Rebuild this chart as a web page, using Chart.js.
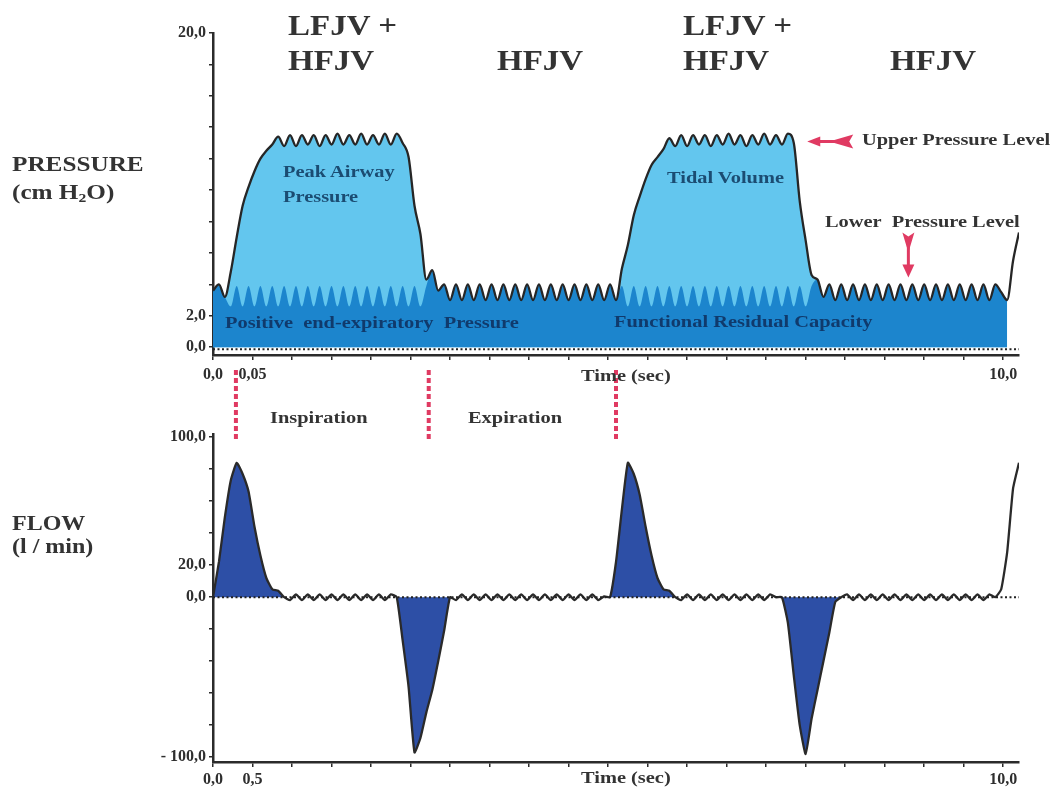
<!DOCTYPE html>
<html>
<head>
<meta charset="utf-8">
<script src="https://cdn.jsdelivr.net/npm/chart.js@4.4.1/dist/chart.umd.min.js"></script>
<style>
  html, body { margin: 0; padding: 0; background: #fff; }
  #wrap { position: relative; width: 1057px; height: 793px; overflow: hidden; }
  canvas { position: absolute; left: 0; }
  #pressureChart { top: 0; }
  #flowChart { top: 360px; }
  .note {
    position: absolute; font-family: 'Liberation Serif', 'DejaVu Serif', serif; font-weight: bold;
    line-height: 1; white-space: nowrap; transform-origin: 0 0; pointer-events: none;
  }
  .note sub { font-size: 0.62em; vertical-align: -0.25em; line-height: 0; }
</style>
</head>
<body>
<div id="wrap">
  <canvas id="pressureChart" width="1057" height="390"></canvas>
  <canvas id="flowChart" width="1057" height="433"></canvas>
</div>
<script>
// Zeitachse (s), Schritt 0,075 s
const time = [
  0, 0.075, 0.15, 0.225, 0.3, 0.375, 0.45, 0.525,
  0.6, 0.675, 0.75, 0.825, 0.9, 0.975, 1.05, 1.125,
  1.2, 1.275, 1.35, 1.425, 1.5, 1.575, 1.65, 1.725,
  1.8, 1.875, 1.95, 2.025, 2.1, 2.175, 2.25, 2.325,
  2.4, 2.475, 2.55, 2.625, 2.7, 2.775, 2.85, 2.925,
  3.0, 3.075, 3.15, 3.225, 3.3, 3.375, 3.45, 3.525,
  3.6, 3.675, 3.75, 3.825, 3.9, 3.975, 4.05, 4.125,
  4.2, 4.275, 4.35, 4.425, 4.5, 4.575, 4.65, 4.725,
  4.8, 4.875, 4.95, 5.025, 5.1, 5.175, 5.25, 5.325,
  5.4, 5.475, 5.55, 5.625, 5.7, 5.775, 5.85, 5.925,
  6.0, 6.075, 6.15, 6.225, 6.3, 6.375, 6.45, 6.525,
  6.6, 6.675, 6.75, 6.825, 6.9, 6.975, 7.05, 7.125,
  7.2, 7.275, 7.35, 7.425, 7.5, 7.575, 7.65, 7.725,
  7.8, 7.875, 7.95, 8.025, 8.1, 8.175, 8.25, 8.325,
  8.4, 8.475, 8.55, 8.625, 8.7, 8.775, 8.85, 8.925,
  9.0, 9.075, 9.15, 9.225, 9.3, 9.375, 9.45, 9.525,
  9.6, 9.675, 9.75, 9.825, 9.9, 9.975, 10.05, 10.125,
  10.2
];

// Atemwegsdruck (cm H2O)
const pressure = [
  3.6, 4.0, 3.2, 4.8, 7.0, 9.0, 10.2, 11.2,
  12.0, 12.5, 12.9, 13.4, 12.8, 13.5, 12.8, 13.5,
  12.9, 13.5, 12.8, 13.5, 12.9, 13.6, 12.9, 13.5,
  12.9, 13.6, 12.9, 13.5, 12.9, 13.6, 12.9, 13.6,
  13.0, 12.1, 9.0, 7.2, 4.3, 4.9, 3.6, 4.0,
  3.0, 4.0, 3.0, 4.0, 3.0, 4.0, 3.0, 4.0,
  3.0, 4.0, 3.0, 4.0, 3.0, 4.0, 3.0, 4.0,
  3.0, 4.0, 3.0, 4.0, 3.0, 4.0, 3.0, 4.0,
  3.0, 4.0, 3.0, 4.0, 3.0, 5.0, 6.5, 8.4,
  9.6, 10.7, 11.6, 12.1, 12.6, 13.3, 12.8, 13.5,
  12.8, 13.5, 12.9, 13.5, 12.8, 13.5, 12.9, 13.6,
  12.9, 13.5, 12.8, 13.5, 12.9, 13.6, 12.9, 13.5,
  12.9, 13.6, 13.0, 9.3, 6.8, 4.6, 4.3, 3.2,
  4.0, 3.0, 4.0, 3.0, 4.0, 3.0, 4.0, 3.0,
  4.0, 3.0, 4.0, 3.0, 4.0, 3.0, 4.0, 3.0,
  4.0, 3.0, 4.0, 3.0, 4.0, 3.0, 4.0, 3.0,
  4.0, 3.0, 4.0, 3.0, 4.0, 3.5, 3.0, 5.5,
  7.3
];

// PEEP / FRC-Band (dunkelblau)
const peep = [
  3.6, 4.0, 3.2, 2.6, 3.9, 2.6, 3.9, 2.6,
  3.9, 2.6, 3.9, 2.6, 3.9, 2.6, 3.9, 2.6,
  3.9, 2.6, 3.9, 2.6, 3.9, 2.6, 3.9, 2.6,
  3.9, 2.6, 3.9, 2.6, 3.9, 2.6, 3.9, 2.6,
  3.9, 2.6, 3.9, 2.6, 3.9, 4.9, 3.6, 4.0,
  3.0, 4.0, 3.0, 4.0, 3.0, 4.0, 3.0, 4.0,
  3.0, 4.0, 3.0, 4.0, 3.0, 4.0, 3.0, 4.0,
  3.0, 4.0, 3.0, 4.0, 3.0, 4.0, 3.0, 4.0,
  3.0, 4.0, 3.0, 4.0, 3.0, 3.9, 2.6, 3.9,
  2.6, 3.9, 2.6, 3.9, 2.6, 3.9, 2.6, 3.9,
  2.6, 3.9, 2.6, 3.9, 2.6, 3.9, 2.6, 3.9,
  2.6, 3.9, 2.6, 3.9, 2.6, 3.9, 2.6, 3.9,
  2.6, 3.9, 2.6, 3.9, 2.6, 3.9, 4.3, 3.2,
  4.0, 3.0, 4.0, 3.0, 4.0, 3.0, 4.0, 3.0,
  4.0, 3.0, 4.0, 3.0, 4.0, 3.0, 4.0, 3.0,
  4.0, 3.0, 4.0, 3.0, 4.0, 3.0, 4.0, 3.0,
  4.0, 3.0, 4.0, 3.0, 4.0, 3.5, 3.0
];

// Flow (l/min)
const flow = [
  0, 22, 50, 73, 84, 77, 66, 44,
  26, 12, 5, 4, 0, -1.8, 1.8, -1.8,
  1.8, -1.8, 1.8, -1.8, 1.8, -1.8, 1.8, -1.8,
  1.8, -1.8, 1.8, -1.8, 1.8, -1.8, 1.8, 0,
  -27, -56, -97, -88, -72, -58, -40, -21,
  0, -1.8, 1.8, -1.8, 1.8, -1.8, 1.8, -1.8,
  1.8, -1.8, 1.8, -1.8, 1.8, -1.8, 1.8, -1.8,
  1.8, -1.8, 1.8, -1.8, 1.8, -1.8, 1.8, -1.8,
  1.8, -1.8, 0.5, 0, 22, 55, 84, 77,
  64, 44, 26, 12, 5, 4, 0, -1.8,
  1.8, -1.8, 1.8, -1.8, 1.8, -1.8, 1.8, -1.8,
  1.8, -1.8, 1.8, -1.8, 1.8, -1.8, 1.8, 0,
  0, -16, -49, -80, -98, -76, -58, -40,
  -22, -3, 0, 1.8, -1.8, 1.8, -1.8, 1.8,
  -1.8, 1.8, -1.8, 1.8, -1.8, 1.8, -1.8, 1.8,
  -1.8, 1.8, -1.8, 1.8, -1.8, 1.8, -1.8, 1.8,
  -1.8, 1.8, -1.8, 1.8, 0, 5, 28, 68,
  84
];
// Index-Bereiche der gefuellten Flow-Spitzen
const flowPeaks = [[0, 12], [31, 40], [67, 78], [96, 106]];

const timeTicks = [0, 0.5, 1, 1.5, 2, 2.5, 3, 3.5, 4, 4.5, 5, 5.5, 6, 6.5, 7, 7.5, 8, 8.5, 9, 9.5, 10];
const timeTextTop = ['0,0', '0,05', '', '', '', '', '', '', '', '', '', '', '', '', '', '', '', '', '', '', '10,0'];
const timeTextBottom = ['0,0', '0,5', '', '', '', '', '', '', '', '', '', '', '', '', '', '', '', '', '', '', '10,0'];
const pressureTicks = [0, 2, 4, 6, 8, 10, 12, 14, 16, 18, 20];
const pressureText = ['0,0', '2,0', '', '', '', '', '', '', '', '', '20,0'];
const flowTicks = [-100, -80, -60, -40, -20, 0, 20, 40, 60, 80, 100];
const flowText = ['- 100,0', '', '', '', '', '0,0', '20,0', '', '', '', '100,0'];

// Phasen-Markierungen (s)
const phaseMarks = [0.29, 2.73, 5.1];

const flowFill = flow.map((v, i) => flowPeaks.some(([a, b]) => i >= a && i <= b) ? v : null);

const RED = '#e03a62';
const tickFont = { family: 'Liberation Serif', weight: 'bold', size: 16 };

function xAxis(texts, height, pad) {
    return {
        type: 'linear', min: 0, max: 10.2,
        afterBuildTicks: ax => { ax.ticks = timeTicks.map(v => ({ value: v })); },
        afterFit: ax => { ax.height = height; },
        border: { display: true, color: '#2b2b2b', width: 2.5 },
        grid: { drawOnChartArea: false, drawTicks: true, tickLength: 5, color: '#2b2b2b', lineWidth: 1.5 },
        ticks: { color: '#2e2e2e', font: tickFont, padding: pad, maxRotation: 0, autoSkip: false,
                 callback: (v, i) => texts[i] }
    };
}

function yAxis(min, max, ticks, texts) {
    return {
        min: min, max: max,
        afterBuildTicks: ax => { ax.ticks = ticks.map(v => ({ value: v })); },
        afterFit: ax => { ax.width = 213; },
        border: { display: true, color: '#2b2b2b', width: 2.5 },
        grid: { drawOnChartArea: false, drawTicks: true, tickLength: 4, color: '#2b2b2b', lineWidth: 1.5 },
        ticks: { color: '#2e2e2e', font: tickFont, padding: 3, autoSkip: false,
                 callback: (v, i) => texts[i] }
    };
}

// Nulllinie gepunktet
function zeroLine(chart, dy) {
    const { ctx, chartArea, scales } = chart;
    const y = scales.y.getPixelForValue(0) + dy;
    ctx.save();
    ctx.strokeStyle = '#222';
    ctx.lineWidth = 2;
    ctx.setLineDash([2, 2.5]);
    ctx.beginPath();
    ctx.moveTo(chartArea.left, y);
    ctx.lineTo(chartArea.right, y);
    ctx.stroke();
    ctx.restore();
}

const pressureExtras = {
    id: 'pressureExtras',
    afterDatasetsDraw(chart) {
        const { ctx, scales } = chart;
        zeroLine(chart, 2);
        ctx.save();
        ctx.fillStyle = RED;
        ctx.strokeStyle = RED;
        // Pfeil "Upper Pressure Level"
        let x = scales.x.getPixelForValue(7.52), y = scales.y.getPixelForValue(13.1);
        ctx.lineWidth = 3;
        ctx.beginPath(); ctx.moveTo(x + 8, y); ctx.lineTo(x + 40, y); ctx.stroke();
        ctx.beginPath(); ctx.moveTo(x, y); ctx.lineTo(x + 13, y - 5); ctx.lineTo(x + 13, y + 5); ctx.closePath(); ctx.fill();
        ctx.beginPath(); ctx.moveTo(x + 22, y); ctx.lineTo(x + 46, y - 7); ctx.lineTo(x + 42, y); ctx.lineTo(x + 46, y + 7); ctx.closePath(); ctx.fill();
        // Pfeil "Lower Pressure Level"
        x = scales.x.getPixelForValue(8.8); y = scales.y.getPixelForValue(7.3);
        ctx.beginPath(); ctx.moveTo(x, y + 8); ctx.lineTo(x, y + 36); ctx.stroke();
        ctx.beginPath(); ctx.moveTo(x - 6, y); ctx.lineTo(x, y + 4); ctx.lineTo(x + 6, y); ctx.lineTo(x, y + 20); ctx.closePath(); ctx.fill();
        ctx.beginPath(); ctx.moveTo(x - 6, y + 32); ctx.lineTo(x + 6, y + 32); ctx.lineTo(x, y + 45); ctx.closePath(); ctx.fill();
        ctx.restore();
    }
};

const flowExtras = {
    id: 'flowExtras',
    afterDatasetsDraw(chart) {
        const { ctx, scales, chartArea } = chart;
        zeroLine(chart, 0);
        ctx.save();
        ctx.strokeStyle = RED;
        ctx.lineWidth = 4;
        ctx.setLineDash([5, 3]);
        phaseMarks.forEach(t => {
            const x = scales.x.getPixelForValue(t);
            ctx.beginPath();
            ctx.moveTo(x, chartArea.top - 64);
            ctx.lineTo(x, chartArea.top + 6);
            ctx.stroke();
        });
        ctx.restore();
    }
};

const baseOptions = (padTop) => ({
    responsive: false,
    animation: false,
    layout: { padding: { top: padTop, right: 38, left: 0, bottom: 0 } },
    plugins: { legend: { display: false }, tooltip: { enabled: false } },
    elements: { point: { radius: 0 } }
});

new Chart(document.getElementById('pressureChart'), {
    type: 'line',
    data: {
        labels: time,
        datasets: [
            { data: pressure, borderColor: '#262626', borderWidth: 2.3, fill: false, cubicInterpolationMode: 'monotone' },
            { data: peep, borderWidth: 0, borderColor: 'transparent', backgroundColor: '#1c85cd', fill: 'origin', cubicInterpolationMode: 'monotone' },
            { data: pressure.slice(0, 135), borderWidth: 0, borderColor: 'transparent', backgroundColor: '#63c6ee', fill: 'origin', cubicInterpolationMode: 'monotone' }
        ]
    },
    options: Object.assign(baseOptions(33), {
        scales: { x: xAxis(timeTextTop, 35, 5), y: yAxis(-0.5, 20, pressureTicks, pressureText) }
    }),
    plugins: [pressureExtras]
});

new Chart(document.getElementById('flowChart'), {
    type: 'line',
    data: {
        labels: time,
        datasets: [
            { data: flow, borderColor: '#2a2a2a', borderWidth: 2.3, fill: false, tension: 0.15 },
            { data: flowFill, borderWidth: 0, borderColor: 'transparent', backgroundColor: '#2d4fa6', fill: 'origin', spanGaps: false, tension: 0.15 }
        ]
    },
    options: Object.assign(baseOptions(74), {
        scales: { x: xAxis(timeTextBottom, 31, 3), y: yAxis(-103, 102, flowTicks, flowText) }
    }),
    plugins: [flowExtras]
});

// Beschriftungen: [text, x, Grundlinie, Groesse, Farbe, Streckung]
const notes = [
    ['LFJV +', 288, 35, 30, '#333', 1.1],
    ['HFJV', 288, 70, 30, '#333', 1.1],
    ['HFJV', 497, 70, 30, '#333', 1.1],
    ['LFJV +', 683, 35, 30, '#333', 1.1],
    ['HFJV', 683, 70, 30, '#333', 1.1],
    ['HFJV', 890, 70, 30, '#333', 1.1],
    ['PRESSURE', 12, 172, 21, '#333', 1.2],
    ['(cm H<sub>2</sub>O)', 12, 200, 21, '#333', 1.2],
    ['FLOW', 12, 530, 20, '#333', 1.2],
    ['(l / min)', 12, 553, 20, '#333', 1.2],
    ['Peak Airway', 283, 177, 17, '#1b4c72', 1.2],
    ['Pressure', 283, 202, 17, '#1b4c72', 1.2],
    ['Tidal Volume', 667, 183, 17, '#1b4c72', 1.2],
    ['Positive&nbsp; end-expiratory&nbsp; Pressure', 225, 328, 17, '#103a6c', 1.2],
    ['Functional Residual Capacity', 614, 327, 17, '#103a6c', 1.2],
    ['Upper Pressure Level', 862, 145, 17, '#333', 1.2],
    ['Lower&nbsp; Pressure Level', 825, 227, 17, '#333', 1.2],
    ['Time (sec)', 581, 381, 17, '#333', 1.2],
    ['Time (sec)', 581, 783, 17, '#333', 1.2],
    ['Inspiration', 270, 423, 17, '#333', 1.2],
    ['Expiration', 468, 423, 17, '#333', 1.2]
];

const wrap = document.getElementById('wrap');
notes.forEach(([html, x, base, size, color, sx]) => {
    const d = document.createElement('div');
    d.className = 'note';
    d.innerHTML = html;
    d.style.left = x + 'px';
    d.style.top = (base - 0.8375 * size) + 'px';
    d.style.fontSize = size + 'px';
    d.style.color = color;
    d.style.transform = 'scaleX(' + sx + ')';
    wrap.appendChild(d);
});
</script>
</body>
</html>
